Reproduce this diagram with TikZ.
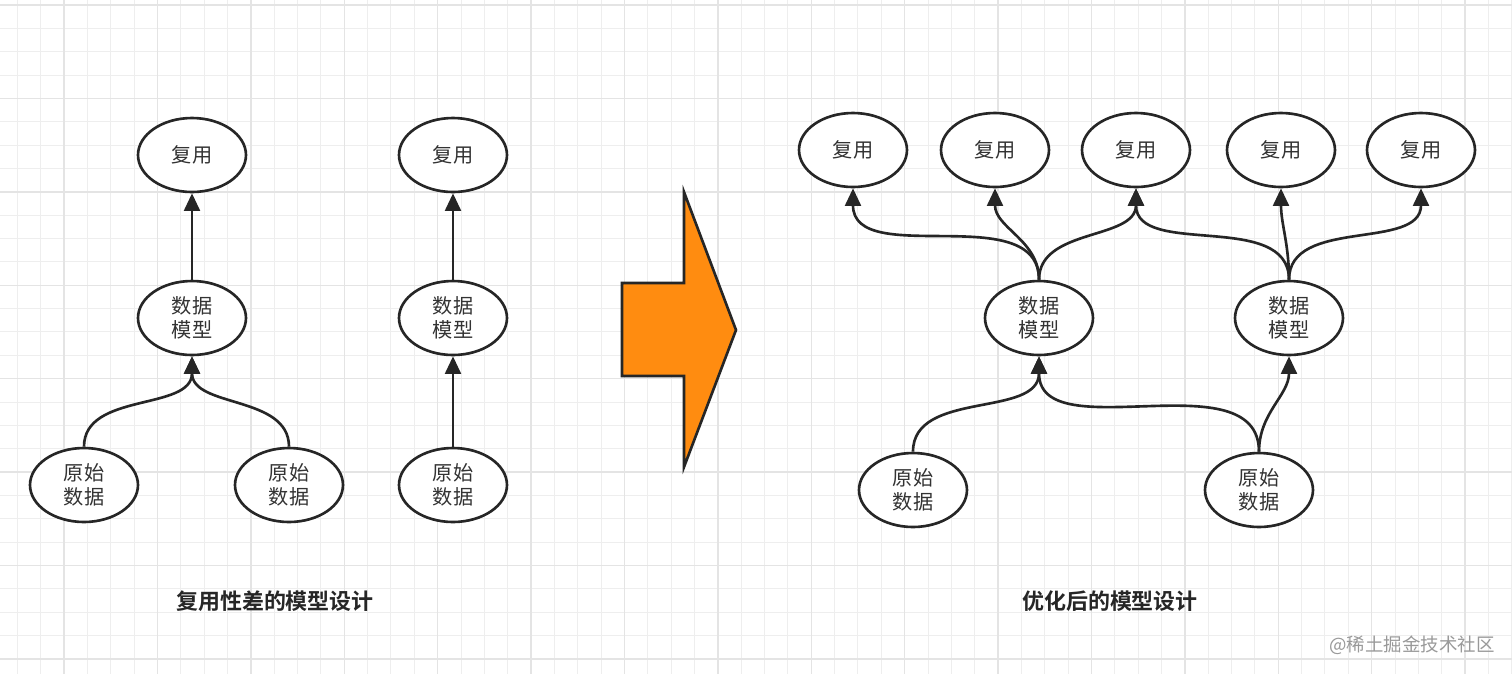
\documentclass[tikz,border=0pt]{standalone}
\usepackage{fontspec}
\setmainfont{Noto Sans CJK SC}[BoldFont={Noto Sans CJK SC Bold}]
\usetikzlibrary{shapes.geometric,arrows.meta}
\definecolor{gridminor}{RGB}{238,238,238}
\definecolor{gridmajor}{RGB}{228,228,228}
\definecolor{bigarrow}{RGB}{255,140,16}
\tikzset{
  box/.style={ellipse, draw=black!85, line width=1.5pt, fill=white,
    minimum width=2.16cm, minimum height=1.48cm, inner sep=0pt,
    align=center, font=\fontsize{11.5}{14}\selectfont, text=black!80},
  link/.style={line width=1.5pt, draw=black!85,
    -{Triangle[length=10pt,width=9pt]}},
  caption/.style={font=\fontsize{12.5}{15}\selectfont\bfseries, text=black!85}
}
\begin{document}
\begin{tikzpicture}[x=0.02cm,y=-0.02cm]
  \useasboundingbox (0,0) rectangle (1512,674);

  % Background grid
  \begin{scope}
    \clip (0,0) rectangle (1512,674);
    \fill[white] (0,0) rectangle (1512,674);
    \foreach \x in {0,...,65} {\draw[gridminor, line width=0.5pt] ({17.3+23.35*\x},0) -- ({17.3+23.35*\x},674);}
    \foreach \y in {0,...,29} {\draw[gridminor, line width=0.5pt] (0,{5+23.35*\y}) -- (1512,{5+23.35*\y});}
    \foreach \x in {0,...,15} {\draw[gridmajor, line width=0.8pt] ({64+93.4*\x},0) -- ({64+93.4*\x},674);}
    \foreach \y in {0,...,7} {\draw[gridmajor, line width=0.8pt] (0,{5+93.4*\y}) -- (1512,{5+93.4*\y});}
  \end{scope}

  % Left: poor reuse
  \node[box] (useA) at (192,155) {复用};
  \node[box] (modelA) at (192,318) {数据\\模型};
  \node[box] (rawA) at (84,485) {原始\\数据};
  \node[box] (rawB) at (289,485) {原始\\数据};
  \node[box] (useB) at (453,155) {复用};
  \node[box] (modelB) at (453,318) {数据\\模型};
  \node[box] (rawC) at (453,485) {原始\\数据};

  \draw[link] (modelA) -- (useA);
  \draw[link] (rawA.north) to[out=90,in=-90] (modelA.south);
  \draw[link] (rawB.north) to[out=90,in=-90] (modelA.south);
  \draw[link] (modelB) -- (useB);
  \draw[link] (rawC) -- (modelB);

  % Big arrow
  \filldraw[fill=bigarrow, draw=black!85, line width=1.5pt]
    (622,283) -- (684,283) -- (684,192) -- (736,330) -- (684,467) -- (684,376) -- (622,376) -- cycle;

  % Right: optimised
  \foreach \name/\x in {useC/853, useD/995, useE/1136, useF/1281, useG/1421}
    \node[box] (\name) at (\x,150) {复用};
  \node[box] (modelC) at (1039,318) {数据\\模型};
  \node[box] (modelD) at (1289,318) {数据\\模型};
  \node[box] (rawD) at (913,490) {原始\\数据};
  \node[box] (rawE) at (1259,490) {原始\\数据};

  \foreach \target in {useC,useD,useE}
    \draw[link] (modelC.north) to[out=90,in=-90] (\target.south);
  \foreach \target in {useE,useF,useG}
    \draw[link] (modelD.north) to[out=90,in=-90] (\target.south);
  \draw[link] (rawD.north) to[out=90,in=-90] (modelC.south);
  \draw[link] (rawE.north) to[out=90,in=-90] (modelC.south);
  \draw[link] (rawE.north) to[out=90,in=-90] (modelD.south);

  % Captions
  \node[caption] (capA) at (275,601) {复用性差的模型设计};
  \node[caption] (capB) at (1110,601) {优化后的模型设计};
  \node[font=\fontsize{10.5}{12}\selectfont, text=black!40] (mark) at (1412,645) {@稀土掘金技术社区};

\end{tikzpicture}
\end{document}
